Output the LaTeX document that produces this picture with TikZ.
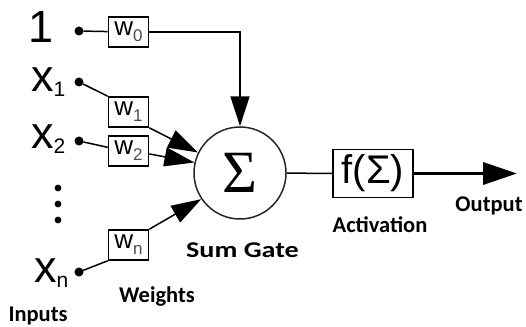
\documentclass[tikz,border=0pt]{standalone}
\usepackage{fontspec}
\usepackage{graphicx}
\setmainfont{Liberation Sans}
\newfontfamily\capfont{Carlito}
\newfontfamily\sigfont{Liberation Serif}
\usetikzlibrary{calc,positioning,arrows.meta}
\tikzset{
 nn line/.style={line width=1.5pt},
 nn arrow/.style={nn line,-{Triangle[length=30pt,width=19pt]}},
 nn out/.style={line width=3.6pt,-{Triangle[length=34pt,width=22pt]}},
 nn dot/.style={circle,fill=black,minimum size=9pt,inner sep=0pt,outer sep=0pt},
 nn weight/.style={draw,line width=1.6pt,minimum width=40pt,minimum height=30pt,
                   inner sep=0pt},
 nn input/.style={font=\fontsize{45}{45}\selectfont,inner sep=0pt,anchor=base west},
 nn caption/.style={font=\capfont\bfseries\fontsize{22.5}{22.5}\selectfont,
                    inner sep=0pt,anchor=base}
}
\newcommand{\xlab}[1]{x{\fontsize{21}{21}\selectfont\raisebox{-5pt}{#1}}}
\newcommand{\wlab}[1]{{\fontsize{26}{26}\selectfont w}%
  {\fontsize{17}{17}\selectfont\raisebox{-6pt}{\color{black!70}#1}}}

\begin{document}
\begin{tikzpicture}[x=1pt,y=-1pt]
 \useasboundingbox (0,0) rectangle (526,326);
 % inputs, dots and weights
 \foreach \i/\dy/\wy in {0/31/32,1/82/112,2/141/151,n/272/245}{
   \node[nn dot] (d\i) at (79,\dy) {};
   \node[nn weight] (w\i) at (128.5,\wy) {\wlab{\i}};
 }
 \node[nn input] (l0) at (28,43) {1};
 \node[nn input] (l1) at (31,92) {\xlab{1}};
 \node[nn input] (l2) at (31,148) {\xlab{2}};
 \node[nn input] (ln) at (34,282) {\xlab{n}};
 \foreach \y in {188,204,220}{\fill (58,\y) circle (3.4pt);}
 % sum gate and activation
 \node[circle,draw=black!85,line width=1.5pt,minimum size=92pt,inner sep=0pt]
   (sum) at (240,173) {\sigfont\fontsize{60}{60}\selectfont Σ};
 \node[draw,line width=1.8pt,minimum width=80pt,minimum height=48pt,inner sep=0pt]
   (act) at (373,173.5) {\fontsize{40}{40}\selectfont f(Σ)};
 \coordinate (out) at (517,173.5);
 % connectors
 \draw[nn line] (d0) -- (w0);
 \draw[nn line] (d1) -- (w1.north west);
 \draw[nn line] (d2) -- (w2.170);
 \draw[nn line] (dn) -- (wn.south west);
 \draw[nn arrow] (w0) -| (sum);
 \draw[nn arrow] (w1.south east) -- (sum.154);
 \draw[nn arrow] (w2.-8) -- (sum.167);
 \draw[nn arrow] (wn.north east) -- (sum.214);
 \draw[nn line] (sum) -- (act);
 \draw[nn out] (act) -- (out);
 % captions
 \node[nn caption] (inputs) at (38,321) {Inputs};
 \node[nn caption] (weights) at (157,302) {Weights};
 \node[nn caption] (sumgate) at (242.5,257) {\scalebox{1.25}[1]{Sum Gate}};
 \node[nn caption] (activation) at (380,232) {Activation};
 \node[nn caption] (output) at (489,211) {Output};
\end{tikzpicture}
\end{document}
